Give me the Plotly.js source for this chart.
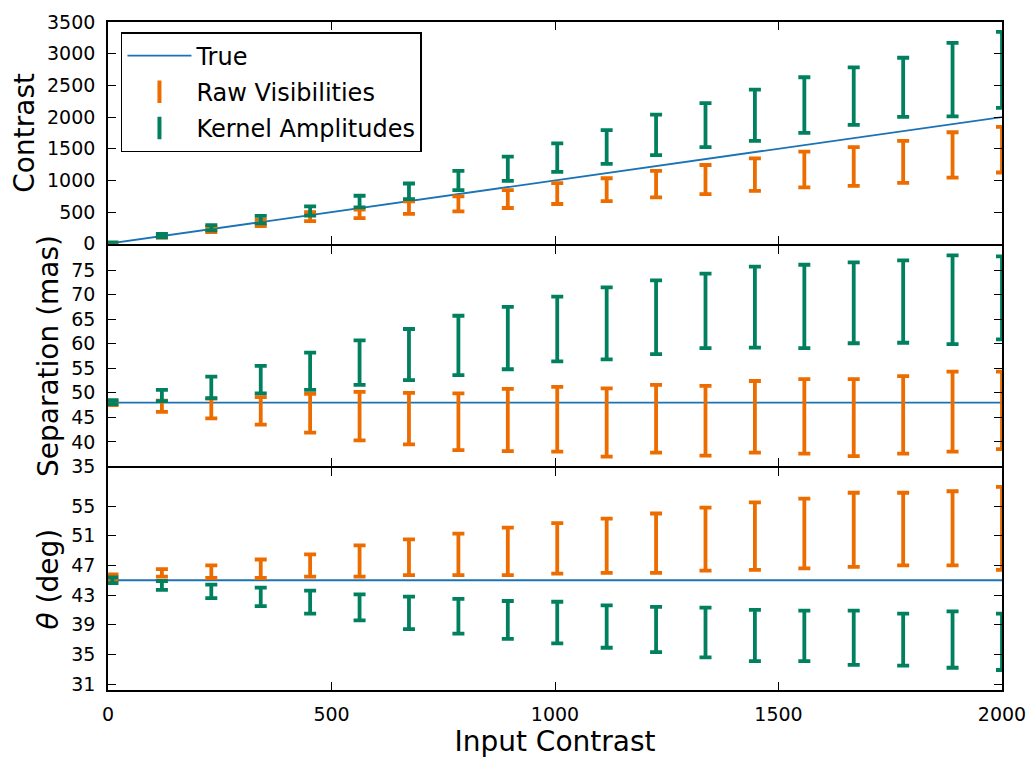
<!DOCTYPE html>
<html>
<head>
<meta charset="utf-8">
<script src="https://cdn.plot.ly/plotly-3.0.1.min.js"></script>
<style>
  html, body { margin: 0; padding: 0; background: #fff; }
  #chart { width: 1032px; height: 760px; }
</style>
</head>
<body>
<div id="chart"></div>
<script>
// ---------- data ----------
const inputContrast = [10, 120.6, 231.1, 341.7, 452.2, 562.8, 673.3, 783.9, 894.4, 1005,
  1115.6, 1226.1, 1336.7, 1447.2, 1557.8, 1668.3, 1778.9, 1889.4, 2000];

// true values
const trueX = [0, 2000];
const trueContrast = [0, 2000];
const trueSeparation = [48, 48];
const trueTheta = [45, 45];

// Contrast panel: lower / upper ends of each error bar
const rawContrastLo = [5, 95, 185, 280, 356, 403, 470, 512, 564, 627, 674, 732, 784, 835, 889, 914, 961, 1045, 1124];
const rawContrastHi = [15, 140, 265, 380, 497, 538, 669, 748, 846, 956, 1034, 1149, 1243, 1348, 1453, 1525, 1625, 1760, 1845];
const kerContrastLo = [5, 100, 210, 320, 444, 575, 705, 846, 992, 1133, 1259, 1400, 1525, 1625, 1751, 1876, 2001, 2011, 2143];
const kerContrastHi = [20, 155, 295, 440, 591, 757, 951, 1149, 1374, 1583, 1792, 2038, 2221, 2434, 2628, 2785, 2936, 3171, 3343];

// Separation panel (mas)
const rawSepLo = [47.5, 46.1, 44.8, 43.5, 41.9, 40.3, 39.5, 38.3, 38.1, 38.0, 37.0, 37.8, 37.2, 37.8, 37.6, 37.1, 37.6, 38.0, 38.5];
const rawSepHi = [48.3, 48.4, 48.8, 49.1, 49.8, 50.2, 50.0, 49.9, 50.8, 51.2, 50.9, 51.6, 51.4, 52.4, 52.8, 52.8, 53.4, 54.3, 54.3];
const kerSepLo = [47.7, 48.3, 48.9, 49.9, 50.6, 51.6, 52.6, 53.6, 54.8, 56.4, 56.8, 57.9, 59.1, 59.2, 59.1, 60.1, 60.2, 59.9, 60.9];
const kerSepHi = [48.5, 50.6, 53.3, 55.5, 58.2, 60.7, 63.0, 65.7, 67.5, 69.6, 71.5, 72.9, 74.3, 75.7, 76.1, 76.6, 77.0, 78.0, 77.8];

// Position angle panel (deg)
const rawThetaLo = [45.0, 45.5, 45.3, 45.3, 45.5, 45.5, 45.7, 45.7, 45.7, 45.9, 46.0, 46.0, 46.3, 46.4, 46.6, 46.8, 47.0, 47.0, 46.4];
const rawThetaHi = [45.8, 46.5, 47.0, 47.8, 48.5, 49.7, 50.5, 51.3, 52.1, 52.7, 53.3, 54.0, 54.8, 55.5, 56.0, 56.8, 56.8, 57.0, 57.6];
const kerThetaLo = [44.6, 43.7, 42.6, 41.5, 40.5, 39.6, 38.4, 37.8, 37.1, 36.5, 35.9, 35.3, 34.6, 34.1, 34.1, 33.6, 33.5, 33.2, 32.9];
const kerThetaHi = [45.4, 44.9, 44.4, 44.0, 43.6, 43.1, 42.8, 42.5, 42.2, 42.1, 41.6, 41.4, 41.3, 41.0, 40.9, 40.9, 40.5, 40.8, 40.5];

// tick labels
const xTicks = [0, 500, 1000, 1500, 2000];
const contrastTicks = [0, 500, 1000, 1500, 2000, 2500, 3000, 3500];
const sepTicks = [35, 40, 45, 50, 55, 60, 65, 70, 75];
const thetaTicks = [31, 35, 39, 43, 47, 51, 55];

// ---------- styling ----------
const BLUE = '#1A73B5';
const ORANGE = '#EC6C00';
const GREEN = '#00805F';
const FONT = 'DejaVu Sans, Liberation Sans, sans-serif';
const LW = 1.8;
const GAP = 0.0014; // tiny domain gap so shared panel borders coincide

function errTrace(lo, hi, color, xa, ya) {
  const mid = lo.map((v, i) => (v + hi[i]) / 2);
  return {
    type: 'scatter', mode: 'markers',
    x: inputContrast, y: mid, xaxis: xa, yaxis: ya,
    showlegend: false, hoverinfo: 'skip',
    marker: { size: 1, color: 'rgba(0,0,0,0)' },
    error_y: {
      type: 'data', symmetric: false,
      array: hi.map((v, i) => v - mid[i]),
      arrayminus: mid.map((v, i) => v - lo[i]),
      color: color, thickness: 3.8, width: 6
    }
  };
}
function trueTrace(y, xa, ya, show) {
  return {
    type: 'scatter', mode: 'lines', x: trueX, y: y, xaxis: xa, yaxis: ya,
    name: 'True', showlegend: show, legendgroup: 'a',
    line: { color: BLUE, width: 1.8 }, hoverinfo: 'skip'
  };
}
function legendTrace(name, color, group) {
  return {
    type: 'scatter', mode: 'markers', x: [null], y: [null], xaxis: 'x', yaxis: 'y',
    name: name, legendgroup: group, showlegend: true,
    marker: { symbol: 'line-ns-open', size: 16, color: color, line: { color: color, width: 4 } }
  };
}

const data = [
  trueTrace(trueContrast, 'x', 'y', true),
  legendTrace('Raw Visibilities', ORANGE, 'b'),
  legendTrace('Kernel Amplitudes', GREEN, 'c'),
  errTrace(rawContrastLo, rawContrastHi, ORANGE, 'x', 'y'),
  errTrace(kerContrastLo, kerContrastHi, GREEN, 'x', 'y'),
  trueTrace(trueSeparation, 'x2', 'y2', false),
  errTrace(rawSepLo, rawSepHi, ORANGE, 'x2', 'y2'),
  errTrace(kerSepLo, kerSepHi, GREEN, 'x2', 'y2'),
  trueTrace(trueTheta, 'x3', 'y3', false),
  errTrace(rawThetaLo, rawThetaHi, ORANGE, 'x3', 'y3'),
  errTrace(kerThetaLo, kerThetaHi, GREEN, 'x3', 'y3')
];

function xAxis(anchor, labels, title) {
  const ax = {
    anchor: anchor, domain: [0, 1], range: [0, 2000],
    tickvals: xTicks, ticks: 'inside', ticklen: 8, tickwidth: 1, tickcolor: '#000',
    showline: true, linecolor: '#000', linewidth: LW, mirror: 'allticks',
    showgrid: false, zeroline: false, showticklabels: labels,
    tickfont: { family: FONT, size: 19, color: '#000' }, ticklabelstandoff: 6
  };
  if (title) ax.title = { text: title, font: { family: FONT, size: 28, color: '#000' }, standoff: 6 };
  return ax;
}
function yAxis(anchor, domain, range, ticks, title) {
  return {
    anchor: anchor, domain: domain, range: range,
    tickvals: ticks, ticks: 'inside', ticklen: 8, tickwidth: 1, tickcolor: '#000',
    showline: true, linecolor: '#000', linewidth: LW, mirror: 'allticks',
    showgrid: false, zeroline: false,
    tickfont: { family: FONT, size: 19, color: '#000' }, ticklabelstandoff: 7,
    title: { text: title, font: { family: FONT, size: 28, color: '#000' }, standoff: 4 }
  };
}

const layout = {
  width: 1032, height: 760,
  margin: { l: 108, r: 30, t: 22, b: 70 },
  paper_bgcolor: '#fff', plot_bgcolor: 'rgba(0,0,0,0)',
  font: { family: FONT, color: '#000' },
  showlegend: true,
  xaxis: xAxis('y', false),
  xaxis2: Object.assign(xAxis('y2', false), { matches: 'x' }),
  xaxis3: Object.assign(xAxis('y3', true, 'Input Contrast'), { matches: 'x' }),
  yaxis: yAxis('x', [2/3 + GAP, 1], [0, 3500], contrastTicks, 'Contrast'),
  yaxis2: yAxis('x2', [1/3 + GAP, 2/3 - GAP], [35, 80], sepTicks, 'Separation (mas)'),
  yaxis3: yAxis('x3', [0, 1/3 - GAP], [30.2, 60.1], thetaTicks, '<i>θ</i> (deg)'),
  legend: {
    x: 0.0145, y: 0.985, xanchor: 'left', yanchor: 'top',
    bgcolor: '#fff', bordercolor: '#000', borderwidth: 1.5,
    font: { family: FONT, size: 24, color: '#000' },
    traceorder: 'grouped', tracegroupgap: 2, itemwidth: 64
  }
};

Plotly.newPlot('chart', data, layout, { staticPlot: true, displayModeBar: false });
</script>
</body>
</html>
